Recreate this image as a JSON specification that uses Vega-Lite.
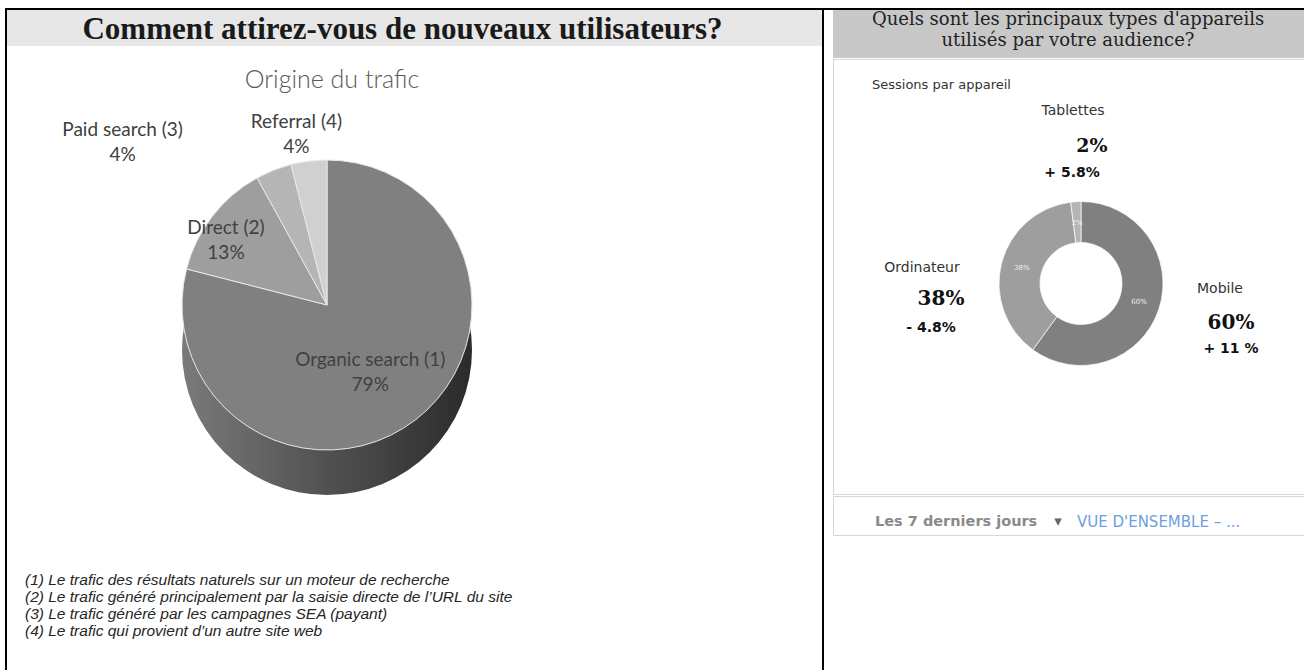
{
  "$schema": "https://vega.github.io/schema/vega-lite/v6.json",
  "padding": {"left": 5, "top": 8, "right": 0, "bottom": 0},
  "background": "white",
  "config": {"view": {"stroke": null}, "concat": {"spacing": 0}, "font": "Lato"},
  "datasets": {
    "traffic": [
      {"source": "Organic search", "n": 1, "pct": 79},
      {"source": "Direct", "n": 2, "pct": 13},
      {"source": "Paid search", "n": 3, "pct": 4},
      {"source": "Referral", "n": 4, "pct": 4}
    ],
    "devices": [
      {"device": "Mobile", "k": 1, "pct": 60, "change": "+ 11 %"},
      {"device": "Ordinateur", "k": 2, "pct": 38, "change": "- 4.8%"},
      {"device": "Tablettes", "k": 3, "pct": 2, "change": "+ 5.8%"}
    ],
    "one": [{}],
    "none": []
  },
  "spacing": 0,
  "vconcat": [
    {"width": 1299, "height": 2, "view": {"fill": "black", "stroke": null}, "data": {"name": "none"}, "mark": "point"},
    {
      "spacing": 0,
      "hconcat": [
        {"width": 2, "height": 660, "view": {"fill": "black", "stroke": null}, "data": {"name": "none"}, "mark": "point"},
        {
          "spacing": 0,
          "vconcat": [
            {"width": 815, "height": 36, "view": {"fill": "#e7e7e7", "stroke": null}, "data": {"name": "one"},
             "mark": {"type": "text", "text": "Comment attirez-vous de nouveaux utilisateurs?", "font": "Liberation Serif", "fontWeight": "bold", "fontSize": 31, "color": "#1a1a1a", "dx": -12, "dy": 2}},
            {"width": 640, "height": 64, "data": {"name": "one"},
             "mark": {"type": "text", "text": "Origine du trafic", "font": "Lato", "fontWeight": 300, "fontSize": 25, "color": "#595959", "dx": 5, "dy": 2}},
            {"width": 640, "height": 380, "data": {"name": "traffic"},
             "transform": [{"calculate": "datum.source + ' (' + datum.n + ')\\n' + datum.pct + '%'", "as": "label"}],
             "layer": [
               {"transform": [{"aggregate": [{"op": "sum", "field": "pct", "as": "total"}]}],
                "mark": {"type": "arc", "outerRadius": 145, "yOffset": 45,
                         "color": {"gradient": "linear", "x1": 0, "y1": 0, "x2": 1, "y2": 0,
                                   "stops": [{"offset": 0, "color": "#7a7a7a"}, {"offset": 0.45, "color": "#555555"}, {"offset": 1, "color": "#2b2b2b"}]}},
                "encoding": {"theta": {"field": "total", "type": "quantitative"}}},
               {"mark": {"type": "arc", "outerRadius": 145, "stroke": "#e8e8e8", "strokeWidth": 1},
                "encoding": {
                  "theta": {"field": "pct", "type": "quantitative", "stack": true},
                  "order": {"field": "n", "type": "quantitative"},
                  "color": {"field": "source", "type": "nominal", "legend": null,
                            "scale": {"domain": ["Organic search", "Direct", "Paid search", "Referral"], "range": ["#808080", "#9e9e9e", "#b5b5b5", "#d0d0d0"]}}}},
               {"mark": {"type": "text", "radius": 95, "dx": -15, "dy": -20, "font": "Lato", "fontSize": 19, "color": "#404040", "lineBreak": "\n", "lineHeight": 25},
                "encoding": {
                  "theta": {"field": "pct", "type": "quantitative", "stack": true},
                  "order": {"field": "n", "type": "quantitative"},
                  "text": {"condition": {"test": "datum.n == 1", "field": "label", "type": "nominal"}, "value": ""}}},
               {"mark": {"type": "text", "radius": 100, "dx": -22, "dy": -16, "font": "Lato", "fontSize": 19, "color": "#404040", "lineBreak": "\n", "lineHeight": 25},
                "encoding": {
                  "theta": {"field": "pct", "type": "quantitative", "stack": true},
                  "order": {"field": "n", "type": "quantitative"},
                  "text": {"condition": {"test": "datum.n == 2", "field": "label", "type": "nominal"}, "value": ""}}},
               {"mark": {"type": "text", "radius": 175, "dx": -140, "dy": -12, "font": "Lato", "fontSize": 19, "color": "#404040", "lineBreak": "\n", "lineHeight": 25},
                "encoding": {
                  "theta": {"field": "pct", "type": "quantitative", "stack": true},
                  "order": {"field": "n", "type": "quantitative"},
                  "text": {"condition": {"test": "datum.n == 3", "field": "label", "type": "nominal"}, "value": ""}}},
               {"mark": {"type": "text", "radius": 172, "dx": -9, "dy": -12, "font": "Lato", "fontSize": 19, "color": "#404040", "lineBreak": "\n", "lineHeight": 25},
                "encoding": {
                  "theta": {"field": "pct", "type": "quantitative", "stack": true},
                  "order": {"field": "n", "type": "quantitative"},
                  "text": {"condition": {"test": "datum.n == 4", "field": "label", "type": "nominal"}, "value": ""}}}
             ]},
            {"width": 815, "height": 180, "data": {"name": "one"},
             "mark": {"type": "text",
                      "text": ["(1)  Le trafic des résultats naturels sur un moteur de recherche",
                               "(2)  Le trafic généré principalement par la saisie directe de l’URL du site",
                               "(3)  Le trafic généré par les campagnes SEA (payant)",
                               "(4)  Le trafic qui provient d’un autre site web"],
                      "align": "left", "baseline": "middle", "font": "Liberation Sans", "fontStyle": "italic", "fontSize": 15.5, "lineHeight": 17, "color": "#262626", "dx": -389.5, "dy": -5}}
          ]
        },
        {"width": 2, "height": 660, "view": {"fill": "black", "stroke": null}, "data": {"name": "none"}, "mark": "point"},
        {
          "spacing": 0,
          "hconcat": [
            {"width": 8, "height": 10, "data": {"name": "none"}, "mark": "point"},
            {
              "spacing": 0,
              "vconcat": [
                {"width": 472, "height": 48, "view": {"fill": "#c8c8c8", "stroke": null}, "data": {"name": "one"},
                 "mark": {"type": "text", "text": ["Quels sont les principaux types d'appareils", "utilisés par votre audience?"],
                          "font": "DejaVu Serif", "fontSize": 18, "lineHeight": 21, "baseline": "middle", "color": "#222222", "dx": -1, "dy": -14}},
                {"width": 472, "height": 435, "view": {"stroke": "#d6d6d6", "strokeWidth": 1}, "data": {"name": "devices"},
                 "transform": [{"calculate": "datum.pct + '%'", "as": "pctLabel"}],
                 "layer": [
                   {"mark": {"type": "arc", "outerRadius": 82, "innerRadius": 41, "xOffset": 12, "yOffset": 7, "stroke": "#ffffff", "strokeWidth": 0.7},
                    "encoding": {
                      "theta": {"field": "pct", "type": "quantitative", "stack": true},
                      "order": {"field": "k", "type": "quantitative"},
                      "color": {"field": "device", "type": "nominal", "legend": null,
                                "scale": {"domain": ["Mobile", "Ordinateur", "Tablettes"], "range": ["#585858", "#a9a9a9", "#7a7a7a"]}}}},
                   {"mark": {"type": "text", "radius": 61, "dx": 12, "dy": 7, "fontSize": 7, "font": "DejaVu Serif", "color": "#f2f2f2"},
                    "encoding": {
                      "theta": {"field": "pct", "type": "quantitative", "stack": true},
                      "order": {"field": "k", "type": "quantitative"},
                      "text": {"field": "pctLabel", "type": "nominal"}}},
                   {"data": {"name": "one"}, "mark": {"type": "text", "text": "Sessions par appareil", "align": "left", "font": "DejaVu Sans", "fontSize": 13, "color": "#333333", "dx": -197, "dy": -192}},
                   {"transform": [{"filter": "datum.device == 'Tablettes'"}], "mark": {"type": "text", "font": "DejaVu Sans", "fontSize": 14, "color": "#333333", "dx": 4, "dy": -165.5}, "encoding": {"text": {"field": "device", "type": "nominal"}}},
                   {"transform": [{"filter": "datum.device == 'Tablettes'"}], "mark": {"type": "text", "font": "DejaVu Serif", "fontWeight": "bold", "fontSize": 19, "color": "#111111", "dx": 23, "dy": -130.5}, "encoding": {"text": {"field": "pctLabel", "type": "nominal"}}},
                   {"transform": [{"filter": "datum.device == 'Tablettes'"}], "mark": {"type": "text", "font": "DejaVu Sans", "fontWeight": "bold", "fontSize": 14, "color": "#111111", "dx": 3, "dy": -103.5}, "encoding": {"text": {"field": "change", "type": "nominal"}}},
                   {"transform": [{"filter": "datum.device == 'Ordinateur'"}], "mark": {"type": "text", "font": "DejaVu Sans", "fontSize": 14, "color": "#333333", "dx": -147, "dy": -8.5}, "encoding": {"text": {"field": "device", "type": "nominal"}}},
                   {"transform": [{"filter": "datum.device == 'Ordinateur'"}], "mark": {"type": "text", "font": "DejaVu Serif", "fontWeight": "bold", "fontSize": 20, "color": "#111111", "dx": -128, "dy": 22.5}, "encoding": {"text": {"field": "pctLabel", "type": "nominal"}}},
                   {"transform": [{"filter": "datum.device == 'Ordinateur'"}], "mark": {"type": "text", "font": "DejaVu Sans", "fontWeight": "bold", "fontSize": 14, "color": "#111111", "dx": -138, "dy": 51.5}, "encoding": {"text": {"field": "change", "type": "nominal"}}},
                   {"transform": [{"filter": "datum.device == 'Mobile'"}], "mark": {"type": "text", "font": "DejaVu Sans", "fontSize": 14, "color": "#333333", "dx": 151, "dy": 12.5}, "encoding": {"text": {"field": "device", "type": "nominal"}}},
                   {"transform": [{"filter": "datum.device == 'Mobile'"}], "mark": {"type": "text", "font": "DejaVu Serif", "fontWeight": "bold", "fontSize": 20, "color": "#111111", "dx": 162, "dy": 46.5}, "encoding": {"text": {"field": "pctLabel", "type": "nominal"}}},
                   {"transform": [{"filter": "datum.device == 'Mobile'"}], "mark": {"type": "text", "font": "DejaVu Sans", "fontWeight": "bold", "fontSize": 14, "color": "#111111", "dx": 162, "dy": 72.5}, "encoding": {"text": {"field": "change", "type": "nominal"}}}
                 ]},
                {"width": 472, "height": 39, "view": {"stroke": "#d6d6d6", "strokeWidth": 1}, "data": {"name": "one"},
                 "layer": [
                   {"mark": {"type": "text", "text": "Les 7 derniers jours", "align": "left", "font": "DejaVu Sans", "fontWeight": "bold", "fontSize": 14.5, "color": "#8a8a8a", "dx": -194, "dy": 6}},
                   {"mark": {"type": "text", "text": "▾", "font": "DejaVu Sans", "fontSize": 15, "color": "#666666", "dx": -11, "dy": 5}},
                   {"mark": {"type": "text", "text": "VUE D'ENSEMBLE – ...", "align": "left", "font": "DejaVu Sans", "fontSize": 15, "color": "#6e9ee0", "dx": 8, "dy": 6}}
                 ]}
              ]
            }
          ]
        }
      ]
    }
  ]
}
